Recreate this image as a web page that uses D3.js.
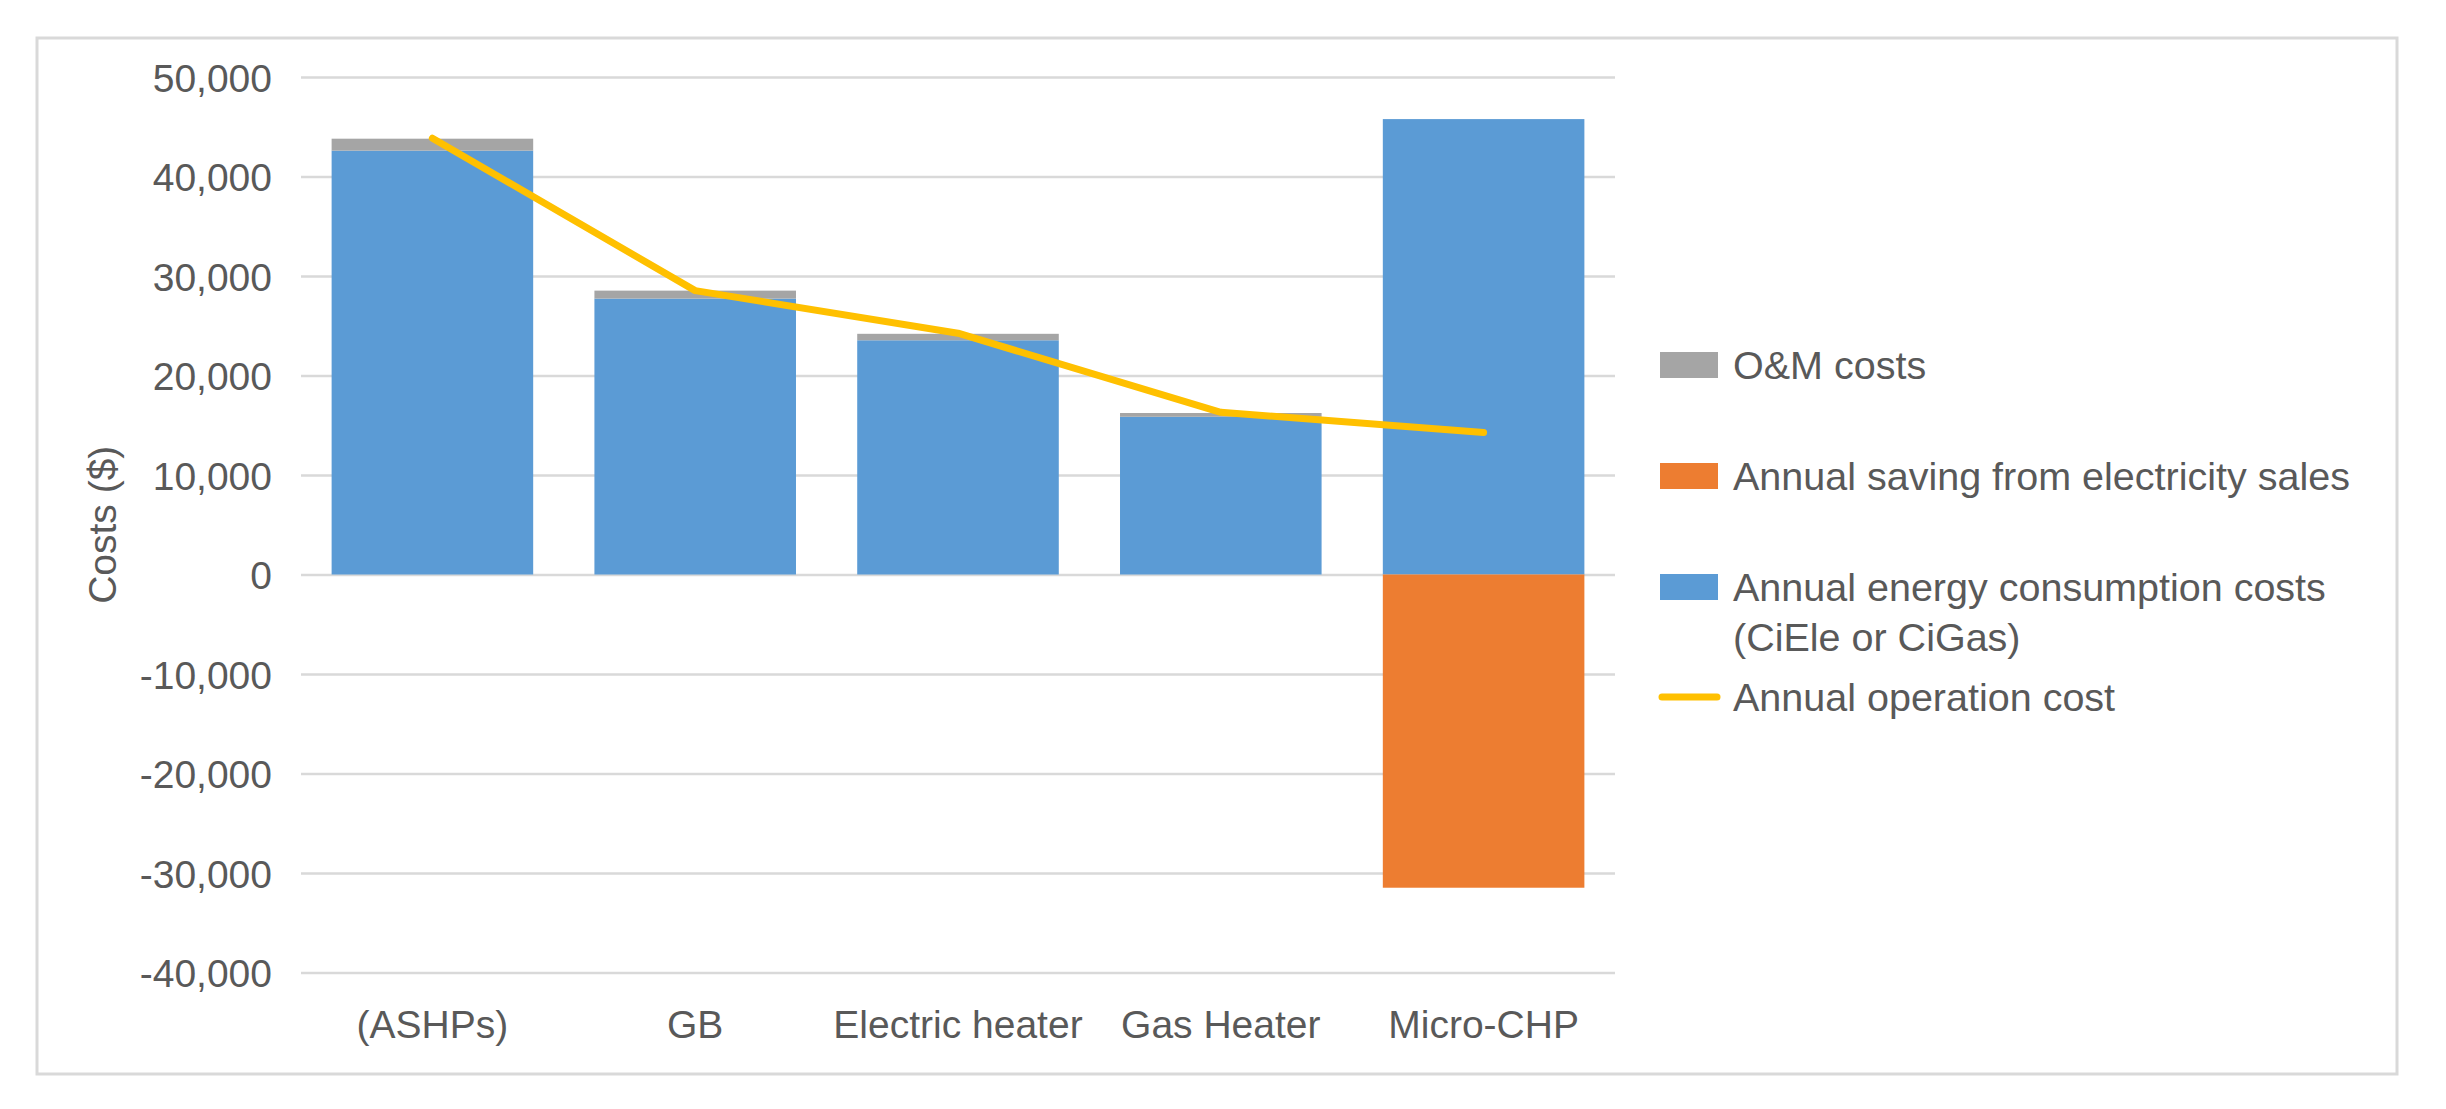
<!DOCTYPE html>
<html>
<head>
<meta charset="utf-8">
<script src="https://cdn.jsdelivr.net/npm/d3@7"></script>
<style>
  html, body { margin: 0; padding: 0; background: #fff; }
  text { font-family: "Liberation Sans", Arial, sans-serif; fill: #595959; }
</style>
</head>
<body>
<svg id="chart"></svg>
<script>
const categories = ["(ASHPs)", "GB", "Electric heater", "Gas Heater", "Micro-CHP"];
const energyCosts = [42600, 27730, 23540, 15850, 45770];
const omCosts = [1200, 800, 650, 380, 0];
const savings = [0, 0, 0, 0, -31480];
const operationCost = [43850, 28530, 24250, 16300, 14270];
const yTicks = [-40000, -30000, -20000, -10000, 0, 10000, 20000, 30000, 40000, 50000];

const colors = { energy: "#5B9BD5", om: "#A5A5A5", saving: "#ED7D31", line: "#FFC000" };

const svgWidth = 2446;
const svgHeight = 1109;
const plot = { left: 301, right: 1615, top: 77, bottom: 972.5 };

const svg = d3.select("#chart").attr("width", svgWidth).attr("height", svgHeight);

// outer chart border
svg.append("rect")
  .attr("x", 37).attr("y", 38)
  .attr("width", 2360).attr("height", 1036)
  .attr("fill", "#fff")
  .attr("stroke", "#d9d9d9")
  .attr("stroke-width", 3);

const x = d3.scaleBand()
  .domain(categories)
  .range([plot.left, plot.right])
  .paddingInner(0.233)
  .paddingOuter(0.1165);

const y = d3.scaleLinear()
  .domain([-40000, 50000])
  .range([plot.bottom, plot.top]);

const fmt = d3.format(",");

// y axis with gridlines
const yAxis = svg.append("g")
  .attr("transform", `translate(${plot.left},0)`)
  .call(d3.axisLeft(y)
    .tickValues(yTicks)
    .tickSize(-(plot.right - plot.left))
    .tickPadding(29)
    .tickFormat((d) => fmt(d).replace("\u2212", "-")));
yAxis.select(".domain").remove();
yAxis.selectAll(".tick line").attr("stroke", "#d9d9d9").attr("stroke-width", 2.5);
yAxis.selectAll(".tick text")
  .attr("font-size", 39)
  .attr("dy", "0.36em")
  .style("font-family", '"Liberation Sans", Arial, sans-serif')
  .attr("fill", "#595959");

// stacked bars
const rows = categories.map((c, i) => ({
  category: c, energy: energyCosts[i], om: omCosts[i], saving: savings[i],
}));
const series = d3.stack()
  .keys(["energy", "om", "saving"])
  .offset(d3.stackOffsetDiverging)(rows);

svg.append("g")
  .selectAll("g")
  .data(series)
  .enter()
  .append("g")
  .attr("fill", (s) => colors[s.key])
  .selectAll("rect")
  .data((s) => s.filter((d) => d[1] !== d[0]))
  .enter()
  .append("rect")
  .attr("x", (d) => x(d.data.category))
  .attr("width", x.bandwidth())
  .attr("y", (d) => y(Math.max(d[0], d[1])))
  .attr("height", (d) => Math.abs(y(d[0]) - y(d[1])));

// operation cost line
const line = d3.line()
  .x((d, i) => x(categories[i]) + x.bandwidth() / 2)
  .y((d) => y(d));
svg.append("path")
  .datum(operationCost)
  .attr("d", line)
  .attr("fill", "none")
  .attr("stroke", colors.line)
  .attr("stroke-width", 7)
  .attr("stroke-linecap", "round")
  .attr("stroke-linejoin", "round");

// x axis labels
const xAxis = svg.append("g")
  .attr("transform", `translate(0,${plot.bottom})`)
  .call(d3.axisBottom(x).tickSize(0).tickPadding(38));
xAxis.select(".domain").remove();
xAxis.selectAll(".tick text")
  .attr("font-size", 39)
  .style("font-family", '"Liberation Sans", Arial, sans-serif')
  .attr("fill", "#595959");

// y axis title
svg.append("text")
  .attr("transform", `translate(102,${(plot.top + plot.bottom) / 2}) rotate(-90)`)
  .attr("text-anchor", "middle")
  .attr("dominant-baseline", "central")
  .attr("font-size", 39)
  .text("Costs ($)");

// legend
const legendItems = [
  { type: "rect", color: colors.om, lines: ["O&M costs"], y: 365 },
  { type: "rect", color: colors.saving, lines: ["Annual saving from electricity sales"], y: 476 },
  { type: "rect", color: colors.energy, lines: ["Annual energy consumption costs", "(CiEle or CiGas)"], y: 587 },
  { type: "line", color: colors.line, lines: ["Annual operation cost"], y: 697 },
];
const legend = svg.append("g");
legendItems.forEach((item) => {
  if (item.type === "rect") {
    legend.append("rect")
      .attr("x", 1660).attr("y", item.y - 13)
      .attr("width", 58).attr("height", 26)
      .attr("fill", item.color);
  } else {
    legend.append("line")
      .attr("x1", 1662).attr("x2", 1717)
      .attr("y1", item.y).attr("y2", item.y)
      .attr("stroke", item.color)
      .attr("stroke-width", 7)
      .attr("stroke-linecap", "round");
  }
  item.lines.forEach((t, j) => {
    legend.append("text")
      .attr("x", 1733)
      .attr("y", item.y + j * 50)
      .attr("dy", "0.36em")
      .attr("font-size", 39.5)
      .text(t);
  });
});
</script>
</body>
</html>
